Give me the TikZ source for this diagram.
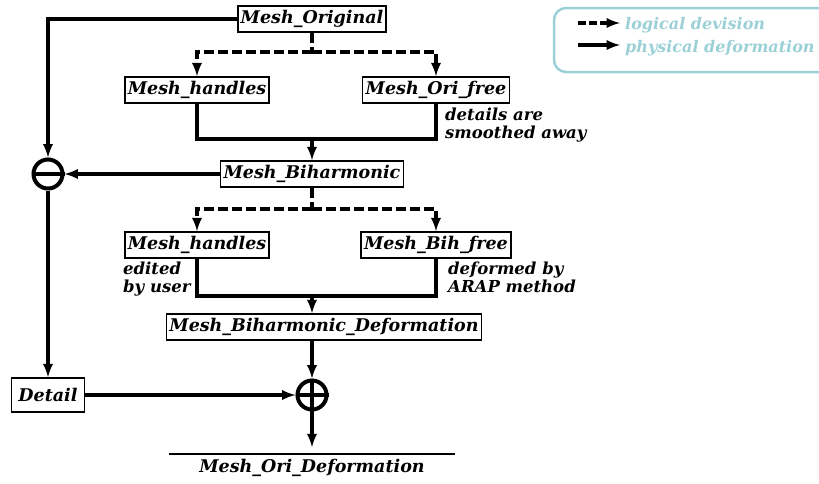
\documentclass[tikz,border=0pt]{standalone}
\usepackage{fontspec}
\setmainfont{DejaVu Serif}
\tikzset{>=latex}
\definecolor{legendblue}{RGB}{155,208,214}
\tikzset{
  mesh/.style = {draw, line width=1.6pt, inner xsep=3pt, inner ysep=2pt, minimum height=26pt,
    font=\fontsize{17.5}{19}\selectfont\itshape\bfseries},
  note/.style = {align=left, anchor=north west, inner sep=0pt,
    font=\fontsize{16.5}{18}\selectfont\itshape\bfseries},
  legendtext/.style = {anchor=west, inner sep=0pt, text=legendblue,
    font=\fontsize{16}{17}\selectfont\itshape\bfseries},
  flow/.style = {line width=3.5pt},
  split/.style = {line width=3.5pt, dash pattern=on 10pt off 4pt},
  oper/.style = {circle, draw, line width=4pt, minimum size=29pt, inner sep=0pt}
}

\begin{document}
\begin{tikzpicture}[x=1pt,y=-1pt]
  \useasboundingbox (0,0) rectangle (819,483);
  \clip (0,0) rectangle (819,483);
  % legend
  \draw[legendblue, line width=2.5pt, rounded corners=12pt] (554,8) rectangle (840,72);
  \coordinate (la1) at (578,23);
  \coordinate (lb1) at (620,23);
  \coordinate (la2) at (578,45);
  \coordinate (lb2) at (620,45);
  \draw[->,split,dash pattern=on 8pt off 3pt] (la1) -- (lb1);
  \draw[->,flow] (la2) -- (lb2);
  \node[legendtext] (logical) at (625,25) {logical devision};
  \node[legendtext] (physical) at (625,48) {physical deformation};
  % meshes
  \node[mesh] (orig) at (312,19) {Mesh\_Original};
  \node[mesh] (hand1) at (197,90) {Mesh\_handles};
  \node[mesh] (orifree) at (436,90) {Mesh\_Ori\_free};
  \node[mesh] (bih) at (312,174) {Mesh\_Biharmonic};
  \node[mesh] (hand2) at (197,245) {Mesh\_handles};
  \node[mesh] (bihfree) at (436,245) {Mesh\_Bih\_free};
  \node[mesh] (bihdef) at (324,327) {Mesh\_Biharmonic\_Deformation};
  \node[mesh, minimum height=34pt, minimum width=73pt] (detail) at (48,395) {Detail};
  \node[mesh, draw=none] (oridef) at (312,468) {Mesh\_Ori\_Deformation};
  \draw[line width=1.6pt] ([xshift=-26pt]oridef.north west) -- ([xshift=26pt]oridef.north east);
  % operators
  \node[oper] (minus) at (48,174) {};
  \draw[line width=4pt] (minus.west) -- (minus.east);
  \node[oper] (plus) at (312,395) {};
  \draw[line width=4pt] (plus.west) -- (plus.east);
  \draw[line width=4pt] (plus.north) -- (plus.south);
  % notes
  \node[note] (smooth) at (445,108) {details are\\smoothed away};
  \node[note] (edited) at (123,262) {edited\\by user};
  \node[note] (arap) at (448,262) {deformed by\\ARAP method};
  % first split
  \coordinate (split1) at (312,52);
  \coordinate (merge1) at (312,139);
  \draw[split] (orig.south) -- (split1);
  \draw[->,split] (split1) -| (hand1.north);
  \draw[->,split] (split1) -| (orifree.north);
  \draw[flow] (hand1.south) |- (merge1) -| (orifree.south);
  \draw[->,flow] (merge1) -- (bih.north);
  % second split
  \coordinate (split2) at (312,209);
  \coordinate (merge2) at (312,296);
  \draw[split] (bih.south) -- (split2);
  \draw[->,split] (split2) -| (hand2.north);
  \draw[->,split] (split2) -| (bihfree.north);
  \draw[flow] (hand2.south) |- (merge2) -| (bihfree.south);
  \draw[->,flow] (merge2) -- (merge2 |- bihdef.north);
  % detail
  \draw[->,flow] (orig.west) -| (minus.north);
  \draw[->,flow] (bih.west) -- (minus.east);
  \draw[->,flow] (minus.south) -- (detail.north);
  \draw[->,flow] (detail.east) -- (plus.west);
  \draw[->,flow] (bihdef.south -| plus.north) -- (plus.north);
  \draw[->,flow,shorten >=7pt] (plus.south) -- (oridef.north);
\end{tikzpicture}
\end{document}
